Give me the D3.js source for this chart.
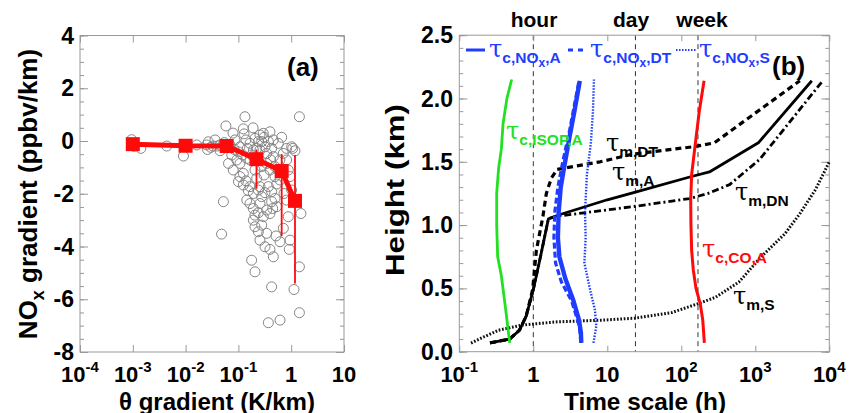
<!DOCTYPE html>
<html>
<head>
<meta charset="utf-8">
<script src="https://cdn.jsdelivr.net/npm/d3@7"></script>
<style>
  body { margin: 0; background: #fff; }
  text { font-family: "Liberation Sans", Arial, Helvetica, sans-serif; font-weight: bold; }
</style>
</head>
<body>
<svg id="chart" width="851" height="413"></svg>
<script>
// ---------------- Panel (a): NOx gradient vs theta gradient ----------------
// individual profiles: [theta gradient (K/km), NOx gradient (ppbv/km)]
const profilePoints = [
  [0.00095, 0.05], [0.00105, -0.2], [0.00142, -0.28], [0.0044, -0.19], [0.0091, -0.57],
  [0.0093, -0.22], [0.0162, -0.15], [0.027, -0.03], [0.030, -0.24], [0.036, 0.04],
  [0.040, -0.19], [0.045, -0.37], [0.058, 0.57], [0.052, -2.30], [0.048, -3.53],
  [0.069, -0.15], [0.075, -0.53], [0.086, 0.04], [0.093, -0.72], [0.107, -0.22],
  [0.124, 0.46], [0.128, 0.27], [0.133, 0.92], [0.139, 0.04], [0.148, -0.28],
  [0.166, -0.09], [0.178, -0.53], [0.107, -0.85], [0.124, -1.23], [0.139, -1.51],
  [0.154, -1.88], [0.206, 0.10], [0.222, -0.72], [0.256, 0.23], [0.276, -0.02],
  [0.306, 0.14], [0.319, -0.22], [0.343, -0.47], [0.369, -0.02], [0.206, -1.10],
  [0.276, -0.97], [0.306, -1.29], [0.343, -0.85], [0.396, -1.10], [0.426, -0.28],
  [0.459, -0.59], [0.493, -1.35], [0.531, -1.63], [0.166, -1.73], [0.192, -1.99],
  [0.239, -1.86], [0.276, -2.11], [0.319, -1.96], [0.369, -1.73], [0.426, -1.92],
  [0.493, -2.18], [0.426, -2.30], [0.192, -2.56], [0.206, -2.81], [0.239, -2.72],
  [0.192, -3.00], [0.206, -3.25], [0.239, -3.44], [0.276, -3.19], [0.296, -2.87],
  [0.343, -2.62], [0.396, -2.75], [0.446, -2.56], [0.531, -2.49], [0.319, -4.01],
  [0.396, -4.11], [0.459, -4.39], [0.178, -4.52], [0.206, -4.96], [0.426, -5.53],
  [0.369, -6.89], [0.614, -6.79], [1.43, -6.51], [1.13, -5.63], [1.43, -4.77],
  [1.53, -2.75], [0.92, -4.11], [0.614, -3.82], [0.515, -3.60], [0.71, -3.31],
  [0.66, 0.14], [0.82, -0.72], [0.88, -1.10], [1.02, -0.22], [1.07, -0.28],
  [1.18, -0.37], [1.43, 0.92], [0.95, -1.35], [1.02, -1.86], [0.61, -0.72],
  [0.57, -1.10], [0.71, -0.47], [0.82, -0.28], [0.57, -0.09], [0.459, 0.04],
  [0.396, 0.35], [0.296, 0.29], [0.239, -0.02], [0.256, -0.34], [0.222, -0.28],
  [0.192, -0.34], [0.166, -0.72], [0.144, -0.66], [0.12, -0.53], [0.10, -0.41],
  [0.083, -0.32], [0.062, -0.24], [0.054, -0.06], [0.045, -0.15], [0.033, -0.19],
  [0.025, -0.15], [0.026, -0.32], [0.065, -0.85], [0.080, -1.10], [0.107, -1.35],
  [0.10, -1.54], [0.124, -1.67], [0.144, -2.24], [0.166, -2.37], [0.256, -2.37],
  [0.222, -1.42], [0.256, -1.73], [0.41, -0.72], [0.493, -0.97], [0.614, -1.48],
  [0.73, -1.99], [0.82, -2.24], [0.88, -2.87], [0.95, -3.76], [0.256, -3.76],
  [0.343, -3.50], [0.079, 0.30], [0.19, 0.50]
];

// binned means with spread
const binTheta = [0.001, 0.01, 0.06, 0.22, 0.66, 1.18];
const binNox   = [-0.12, -0.18, -0.19, -0.69, -1.14, -2.27];
const binHigh  = [0.05, 0.0, 0.02, -0.32, -0.50, -0.53];
const binLow   = [-0.3, -0.35, -0.4, -1.81, -3.60, -5.40];

const thetaTicks = [1e-4, 1e-3, 1e-2, 1e-1, 1, 10];
const noxTicks = [4, 2, 0, -2, -4, -6, -8];
const noxMinor = d3.range(-8, 4.01, 0.5);

// ---------------- Panel (b): time scales vs height ----------------
// [time scale (h), height (km)]
const tauIsopA = [[0.48,0.07],[0.42,0.35],[0.37,0.6],[0.33,0.75],[0.32,1.0],[0.32,1.25],
  [0.34,1.45],[0.37,1.6],[0.39,1.8],[0.44,2.0],[0.51,2.15]];
const tauNoxA = [[4.45,0.07],[4.4,0.15],[4.15,0.25],[3.5,0.4],[2.7,0.58],[2.25,0.75],[2.15,0.9],
  [2.2,1.1],[2.35,1.3],[2.6,1.45],[3.1,1.7],[3.6,1.9],[4.25,2.14]];
const tauNoxDT = [[4.4,0.07],[4.2,0.2],[3.3,0.4],[2.4,0.55],[2.0,0.7],[1.9,0.9],[1.95,1.1],
  [2.15,1.3],[2.5,1.5],[3.1,1.75],[3.6,1.95],[4.15,2.14]];
const tauNoxS = [[6.5,0.07],[7.1,0.2],[6.8,0.33],[5.8,0.5],[4.9,0.7],[5.1,0.9],[5.0,1.1],
  [5.3,1.4],[6.0,1.65],[6.4,1.9],[6.6,2.15]];
const tauCoA = [[205,0.07],[195,0.25],[180,0.38],[158,0.5],[145,0.65],[138,0.8],[135,1.0],
  [134,1.2],[138,1.4],[153,1.62],[175,1.9],[203,2.14]];
const tauMixA = [[0.26,0.07],[0.48,0.1],[0.65,0.17],[0.8,0.28],[1.0,0.49],[1.25,0.75],[1.6,1.05],
  [2.2,1.08],[10,1.2],[24,1.26],[130,1.38],[240,1.42],[1100,1.65],[5800,2.14]];
const tauMixDT = [[0.26,0.07],[0.48,0.1],[0.65,0.17],[0.8,0.28],[0.98,0.49],[1.1,0.8],[1.35,1.07],
  [1.5,1.25],[1.75,1.37],[2.1,1.44],[8,1.5],[22,1.56],[150,1.62],[280,1.65],[4000,2.14]];
const tauMixDN = [[0.26,0.07],[0.48,0.1],[0.65,0.17],[0.8,0.28],[1.0,0.49],[1.25,0.75],[1.6,1.05],
  [2.1,1.07],[25,1.15],[130,1.21],[230,1.25],[450,1.32],[1150,1.52],[7900,2.13]];
const tauMixS = [[0.144,0.067],[0.22,0.12],[0.34,0.17],[0.7,0.21],[2.0,0.235],[9,0.25],[24,0.265],
  [75,0.31],[170,0.38],[290,0.43],[600,0.55],[1200,0.75],[2500,0.93],[4000,1.09],[6500,1.28],[10000,1.5]];

const periodMarks = [1, 24, 168];
const periodNames = ["hour", "day", "week"];
const timeTicks = [0.1, 1, 10, 100, 1000, 10000];
const heightTicks = [0, 0.5, 1.0, 1.5, 2.0, 2.5];
const heightMinor = d3.range(0, 2.501, 0.1);

// ---------------- drawing ----------------
const svg = d3.select("#chart");
const frameColor = "#999";
const blue = "#1f3cff", green = "#22e022", red = "#ff0a0a";

const xA = d3.scaleLog().domain([1e-4, 10]).range([80, 344]);
const yA = d3.scaleLinear().domain([-8, 4]).range([352, 35.5]);
const xB = d3.scaleLog().domain([0.1, 1e4]).range([459.3, 829.3]);
const yB = d3.scaleLinear().domain([0, 2.5]).range([351.7, 35.2]);

function cleanAxis(sel) {
  sel.select(".domain").remove();
  sel.selectAll("text").remove();
  sel.selectAll("line").attr("stroke", frameColor).attr("stroke-width", 1);
}

function boxAxes(x, y, xVals, yVals, yMinorVals, xLen, yLen, yMinLen) {
  const g = svg.append("g");
  const [xl, xr] = x.range();
  const [yb, yt] = y.range();
  g.append("g").attr("transform", `translate(0,${yb})`)
    .call(d3.axisBottom(x).tickValues(xVals).tickSize(-xLen).tickFormat("")).call(cleanAxis);
  g.append("g").attr("transform", `translate(0,${yt})`)
    .call(d3.axisTop(x).tickValues(xVals).tickSize(-xLen).tickFormat("")).call(cleanAxis);
  g.append("g").attr("transform", `translate(${xl},0)`)
    .call(d3.axisLeft(y).tickValues(yVals).tickSize(-yLen).tickFormat("")).call(cleanAxis);
  g.append("g").attr("transform", `translate(${xr},0)`)
    .call(d3.axisRight(y).tickValues(yVals).tickSize(-yLen).tickFormat("")).call(cleanAxis);
  g.append("g").attr("transform", `translate(${xl},0)`)
    .call(d3.axisLeft(y).tickValues(yMinorVals).tickSize(-yMinLen).tickFormat("")).call(cleanAxis);
  g.append("g").attr("transform", `translate(${xr},0)`)
    .call(d3.axisRight(y).tickValues(yMinorVals).tickSize(-yMinLen).tickFormat("")).call(cleanAxis);
  g.append("rect")
    .attr("x", xl).attr("y", yt).attr("width", xr - xl).attr("height", yb - yt)
    .attr("fill", "none").attr("stroke", frameColor).attr("stroke-width", 1);
}

function decadeLabels(x, vals, baseline) {
  vals.forEach(v => {
    const e = Math.round(Math.log10(v));
    const t = svg.append("text").attr("x", x(v)).attr("y", baseline)
      .attr("text-anchor", "middle").attr("font-size", 22).attr("fill", "#000");
    if (e === 0) t.text("1");
    else if (e === 1) t.text("10");
    else {
      t.append("tspan").text("10");
      t.append("tspan").attr("dy", -10).attr("font-size", 15).text(e < 0 ? "-" + (-e) : String(e));
    }
  });
}

function valueLabels(y, vals, xRight, fmt) {
  vals.forEach(v => {
    svg.append("text").attr("x", xRight).attr("y", y(v) + 8)
      .attr("text-anchor", "end").attr("font-size", 23).attr("fill", "#000").text(fmt(v));
  });
}

// tau symbol followed by bold subscripts; level 1 = subscript, level 2 = nested subscript
function tauLabel(x, y, color, segs) {
  const t = svg.append("text").attr("x", x).attr("y", y).attr("fill", color);
  t.append("tspan").attr("font-family", "DejaVu Serif, serif").attr("font-weight", "normal")
    .attr("font-size", 24).text("\u03c4");
  const off = [0, 6, 10];
  let cur = 0;
  segs.forEach(([txt, lvl]) => {
    t.append("tspan").attr("dy", off[lvl] - off[cur])
      .attr("font-size", lvl === 2 ? 12 : 15.5).text(txt);
    cur = lvl;
  });
  return t;
}

// ----- panel (a)
boxAxes(xA, yA, thetaTicks, noxTicks, noxMinor, 7, 8, 4);
decadeLabels(xA, thetaTicks, 382);
valueLabels(yA, noxTicks, 74, d => String(d));

svg.append("g").selectAll("circle").data(profilePoints).join("circle")
  .attr("cx", d => xA(d[0])).attr("cy", d => yA(d[1])).attr("r", 5)
  .attr("fill", "none").attr("stroke", "#858585").attr("stroke-width", 1);

const bins = binTheta.map((t, i) => ({ t, m: binNox[i], lo: binLow[i], hi: binHigh[i] }));
svg.append("g").selectAll("line").data(bins).join("line")
  .attr("x1", d => xA(d.t)).attr("x2", d => xA(d.t))
  .attr("y1", d => yA(d.hi)).attr("y2", d => yA(d.lo))
  .attr("stroke", red).attr("stroke-width", 1.8);
svg.append("path").datum(bins)
  .attr("d", d3.line().x(d => xA(d.t)).y(d => yA(d.m)))
  .attr("fill", "none").attr("stroke", red).attr("stroke-width", 5);
svg.append("g").selectAll("rect").data(bins).join("rect")
  .attr("x", d => xA(d.t) - 7).attr("y", d => yA(d.m) - 7)
  .attr("width", 14).attr("height", 14).attr("fill", red);

svg.append("text").attr("x", 287).attr("y", 76).attr("font-size", 26).text("(a)");

svg.append("text").attr("x", 217).attr("y", 409.5).attr("text-anchor", "middle")
  .attr("font-size", 24).attr("textLength", 196).attr("lengthAdjust", "spacingAndGlyphs")
  .text("\u03b8 gradient (K/km)");
const ya = svg.append("text").attr("transform", "translate(37,194) rotate(-90)")
  .attr("text-anchor", "middle").attr("font-size", 26);
ya.append("tspan").text("NO");
ya.append("tspan").attr("dy", 7).attr("font-size", 18).text("x");
ya.append("tspan").attr("dy", -7).text(" gradient (ppbv/km)");

// ----- panel (b)
svg.append("g").selectAll("line").data(periodMarks).join("line")
  .attr("x1", d => xB(d)).attr("x2", d => xB(d))
  .attr("y1", yB(2.5)).attr("y2", yB(0))
  .attr("stroke", "#333").attr("stroke-width", 1).attr("stroke-dasharray", "5,4");

boxAxes(xB, yB, timeTicks, heightTicks, heightMinor, 6, 8, 4);
decadeLabels(xB, timeTicks, 382);
valueLabels(yB, heightTicks, 453, d3.format(".1f"));

const periodX = [534, 631, 702];
periodNames.forEach((n, i) => {
  svg.append("text").attr("x", periodX[i]).attr("y", 27).attr("text-anchor", "middle")
    .attr("font-size", 21).text(n);
});

const lineB = d3.line().x(d => xB(d[0])).y(d => yB(d[1]));
const curves = [
  { data: tauMixS,  color: "#111", width: 3.0, dash: "1.7,1.7" },
  { data: tauMixDN, color: "#000", width: 2.8, dash: "7,3,2,3" },
  { data: tauMixDT, color: "#000", width: 3.2, dash: "6,4" },
  { data: tauMixA,  color: "#000", width: 2.8, dash: null },
  { data: tauNoxS,  color: blue,   width: 2.4, dash: "1.5,1.5" },
  { data: tauNoxA,  color: blue,   width: 4.4, dash: null },
  { data: tauNoxDT, color: blue,   width: 3.2, dash: "6,3" },
  { data: tauIsopA, color: green,  width: 2.8, dash: null },
  { data: tauCoA,   color: red,    width: 3.0, dash: null }
];
svg.append("g").selectAll("path").data(curves).join("path")
  .attr("d", d => lineB(d.data))
  .attr("fill", "none").attr("stroke", d => d.color).attr("stroke-width", d => d.width)
  .attr("stroke-dasharray", d => d.dash).attr("stroke-linejoin", "round");

// legend samples
const legendY = 50;
svg.append("line").attr("x1", 466).attr("x2", 485).attr("y1", legendY).attr("y2", legendY)
  .attr("stroke", blue).attr("stroke-width", 3);
svg.append("line").attr("x1", 568).attr("x2", 584).attr("y1", legendY).attr("y2", legendY)
  .attr("stroke", blue).attr("stroke-width", 3).attr("stroke-dasharray", "5,5");
svg.append("line").attr("x1", 676).attr("x2", 697).attr("y1", legendY).attr("y2", legendY)
  .attr("stroke", blue).attr("stroke-width", 2).attr("stroke-dasharray", "1.5,1.5");
tauLabel(489, 57, blue, [["c,NO", 1], ["x", 2], [",A", 1]]);
tauLabel(590, 57, blue, [["c,NO", 1], ["x", 2], [",DT", 1]]);
tauLabel(699, 57, blue, [["c,NO", 1], ["x", 2], [",S", 1]]);

svg.append("text").attr("x", 772).attr("y", 75).attr("font-size", 26).text("(b)");

tauLabel(506, 139, green, [["c,ISOP,A", 1]]);
tauLabel(606, 151, "#000", [["m,DT", 1]]);
tauLabel(612, 180, "#000", [["m,A", 1]]);
tauLabel(735, 200, "#000", [["m,DN", 1]]);
tauLabel(702, 257, red, [["c,CO,A", 1]]);
tauLabel(733, 304, "#000", [["m,S", 1]]);

svg.append("text").attr("x", 645).attr("y", 409.5).attr("text-anchor", "middle")
  .attr("font-size", 24).attr("textLength", 162).attr("lengthAdjust", "spacingAndGlyphs")
  .text("Time scale (h)");
svg.append("text").attr("transform", "translate(404,190) rotate(-90)")
  .attr("text-anchor", "middle").attr("font-size", 25)
  .attr("textLength", 172).attr("lengthAdjust", "spacingAndGlyphs").text("Height (km)");
</script>
</body>
</html>
